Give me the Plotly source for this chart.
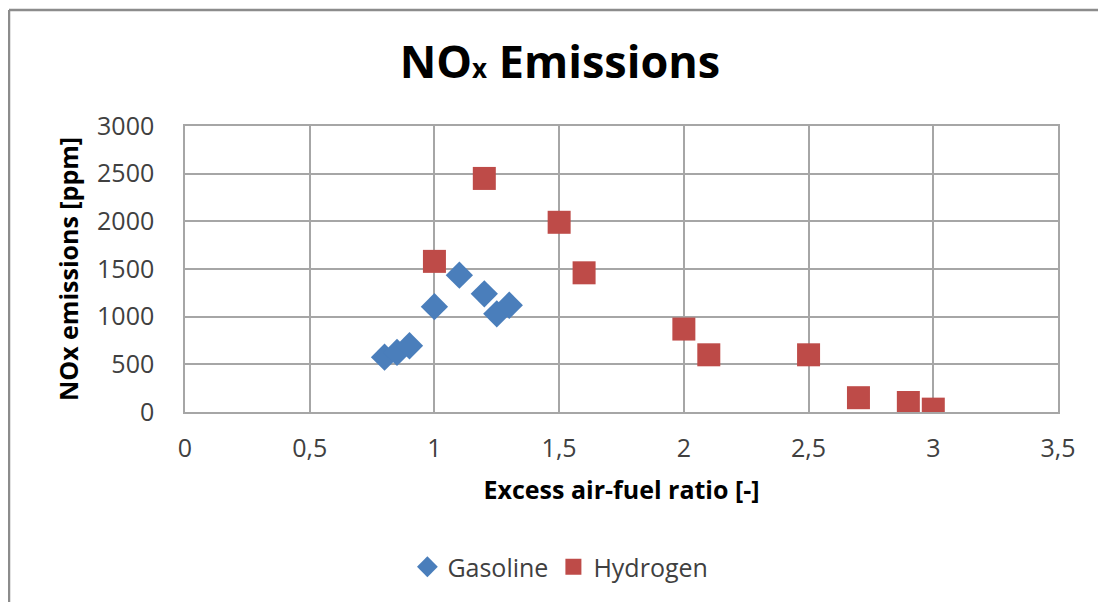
import plotly.graph_objects as go

gasoline_x = [0.8, 0.85, 0.9, 1.0, 1.1, 1.2, 1.25, 1.3]
gasoline_y = [575, 625, 695, 1105, 1435, 1240, 1030, 1120]
hydrogen_x = [1.0, 1.2, 1.5, 1.6, 2.0, 2.1, 2.5, 2.7, 2.9, 3.0]
hydrogen_y = [1580, 2450, 1990, 1460, 870, 600, 600, 150, 100, 30]
x_ticks = [0, 0.5, 1, 1.5, 2, 2.5, 3, 3.5]
x_ticktext = ["0", "0,5", "1", "1,5", "2", "2,5", "3", "3,5"]
y_ticks = [0, 500, 1000, 1500, 2000, 2500, 3000]

font_main = "'Open Sans', Lato, sans-serif"
tick_color = "#404040"
grid_color = "#a6a6a6"
border_color = "#8c8c8c"

fig = go.Figure()
fig.add_trace(go.Scatter(
    x=gasoline_x, y=gasoline_y, mode="markers", name="Gasoline",
    marker=dict(symbol="diamond", size=21, color="#4a7ebb"),
))
fig.add_trace(go.Scatter(
    x=hydrogen_x, y=hydrogen_y, mode="markers", name="Hydrogen",
    marker=dict(symbol="square", size=23, color="#be4b48"),
))

fig.update_layout(
    width=1090, height=594,
    margin=dict(l=177, r=40, t=118, b=188),
    paper_bgcolor="white", plot_bgcolor="white",
    font=dict(family=font_main, color=tick_color, size=22),
    title=dict(
        text="<b>NO<span style='font-size:26px'>x</span> Emissions</b>",
        x=0.5064, xanchor="center", y=0.909, yanchor="middle",
        font=dict(size=45, color="black", family=font_main),
    ),
    showlegend=True,
    legend=dict(
        orientation="h", x=0.43, xanchor="center", y=-0.542, yanchor="middle",
        font=dict(size=25, color=tick_color),
    ),
    xaxis=dict(
        range=[0, 3.5], tickvals=x_ticks, ticktext=x_ticktext,
        showgrid=True, gridcolor=grid_color, gridwidth=1.5,
        showline=True, linecolor=grid_color, linewidth=1.5, mirror=True,
        zeroline=False, ticks="", ticklabelstandoff=13,
        tickfont=dict(size=25, color=tick_color),
        title=dict(text="<b>Excess air-fuel ratio [-]</b>",
                   font=dict(size=25, color="#000000"), standoff=19),
    ),
    yaxis=dict(
        range=[0, 3000], tickvals=y_ticks,
        showgrid=True, gridcolor=grid_color, gridwidth=1.5,
        showline=True, linecolor=grid_color, linewidth=1.5, mirror=True,
        zeroline=False, ticks="", ticklabelstandoff=24,
        tickfont=dict(size=25, color=tick_color),
        title=dict(text="<b>NOx emissions [ppm]</b>",
                   font=dict(size=25, color="#000000"), standoff=11),
    ),
    shapes=[
        dict(type="line", xref="paper", yref="paper",
             x0=-0.2016, x1=1.2, y0=1.406, y1=1.406,
             line=dict(color=border_color, width=2.5)),
        dict(type="line", xref="paper", yref="paper",
             x0=-0.2016, x1=-0.2016, y0=-1.5, y1=1.406,
             line=dict(color=border_color, width=2.5)),
    ],
)

fig.write_html("out.html")
